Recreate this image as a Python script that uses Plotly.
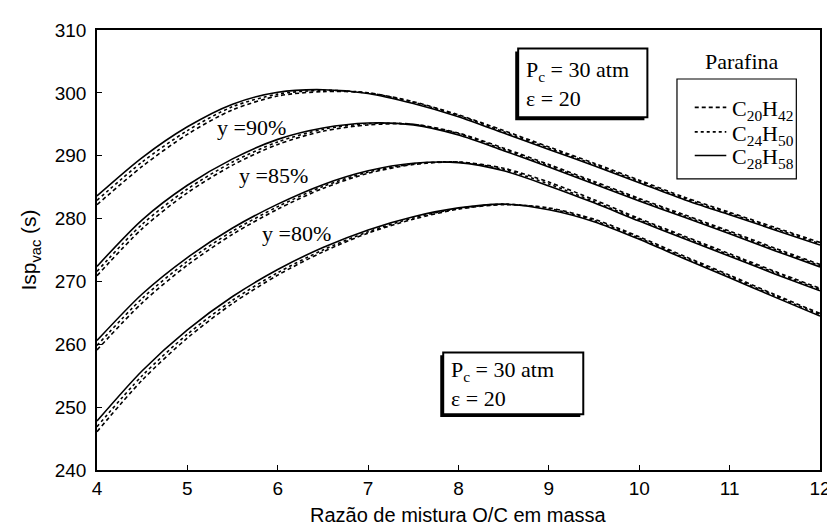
import plotly.graph_objects as go

# ---------------- data ----------------
ratio_oc = [4.0, 4.5, 5.0, 5.5, 6.0, 6.5, 7.0, 7.5, 8.0, 8.5, 9.0, 9.5, 10.0, 10.5, 11.0, 11.5, 12.0]

# top bundle
isp1_c20 = [282.2, 288.3, 293.4, 297.3, 299.5, 300.2, 300.0, 298.6, 296.5, 294.0, 291.4, 288.8, 286.1, 283.4, 281.0, 278.6, 276.2]
isp1_c24 = [282.9, 289.0, 294.0, 297.8, 299.8, 300.4, 300.0, 298.5, 296.4, 293.8, 291.2, 288.6, 285.9, 283.2, 280.8, 278.4, 276.0]
isp1_c28 = [283.6, 289.7, 294.6, 298.2, 300.1, 300.5, 299.9, 298.3, 296.2, 293.6, 291.0, 288.4, 285.7, 283.0, 280.6, 278.2, 275.8]
# second bundle
isp2_c20 = [270.9, 278.4, 284.1, 288.5, 291.8, 293.9, 294.9, 295.0, 293.6, 291.2, 288.6, 285.9, 283.2, 280.6, 278.0, 275.3, 272.7]
isp2_c24 = [271.6, 279.1, 284.7, 289.0, 292.2, 294.2, 295.1, 295.0, 293.5, 291.0, 288.4, 285.7, 283.0, 280.4, 277.8, 275.1, 272.5]
isp2_c28 = [272.4, 279.8, 285.3, 289.5, 292.6, 294.4, 295.2, 294.9, 293.3, 290.8, 288.2, 285.5, 282.8, 280.2, 277.6, 274.9, 272.3]
# third bundle
isp3_c20 = [259.1, 266.6, 272.6, 277.5, 281.5, 284.8, 287.2, 288.6, 289.0, 288.0, 285.8, 283.0, 280.0, 277.2, 274.4, 271.6, 268.9]
isp3_c24 = [259.8, 267.3, 273.2, 278.0, 281.9, 285.1, 287.4, 288.7, 289.0, 287.8, 285.5, 282.7, 279.8, 277.0, 274.2, 271.4, 268.7]
isp3_c28 = [260.6, 268.0, 273.8, 278.5, 282.3, 285.4, 287.6, 288.8, 288.9, 287.6, 285.2, 282.5, 279.6, 276.8, 274.0, 271.2, 268.5]
# bottom bundle
isp4_c20 = [246.1, 254.3, 261.0, 266.5, 271.0, 274.7, 277.7, 279.9, 281.5, 282.2, 281.7, 279.9, 277.1, 274.0, 271.0, 267.9, 264.9]
isp4_c24 = [246.9, 255.0, 261.6, 267.0, 271.4, 275.0, 277.9, 280.1, 281.6, 282.3, 281.6, 279.7, 276.9, 273.8, 270.8, 267.7, 264.7]
isp4_c28 = [247.8, 255.8, 262.3, 267.6, 271.9, 275.4, 278.2, 280.3, 281.7, 282.3, 281.4, 279.5, 276.7, 273.6, 270.6, 267.5, 264.5]

fuel_names = ["C<sub>20</sub>H<sub>42</sub>", "C<sub>24</sub>H<sub>50</sub>", "C<sub>28</sub>H<sub>58</sub>"]
bundles = [
    [isp1_c20, isp1_c24, isp1_c28],
    [isp2_c20, isp2_c24, isp2_c28],
    [isp3_c20, isp3_c24, isp3_c28],
    [isp4_c20, isp4_c24, isp4_c28],
]
level_labels = ["y =90%", "y =85%", "y =80%"]

x_ticks = [4, 5, 6, 7, 8, 9, 10, 11, 12]
y_ticks = [240, 250, 260, 270, 280, 290, 300, 310]

# ---------------- figure ----------------
W, H = 835, 526
L, R, T, B = 89, 822, 13, 462
SERIF = "Liberation Serif, Times New Roman, serif"
SANS = "Liberation Sans, Arial, sans-serif"

def px(xp):
    return (xp - L) / (R - L)

def py(yp):
    return (B - yp) / (B - T)

dash_styles = ["4px,3px", "dot", "solid"]

fig = go.Figure()
for bi, bundle in enumerate(bundles):
    for fi, vals in enumerate(bundle):
        fig.add_trace(go.Scatter(
            x=ratio_oc, y=vals, mode="lines",
            line=dict(color="black", width=1.6, dash=dash_styles[fi], shape="spline", smoothing=0.8),
            name=fuel_names[fi], showlegend=False,
            hoverinfo="skip",
        ))

shapes = []
def boxed(x0, y0, x1, y1):
    # shadow (offset left/down) + white box with border
    shapes.append(dict(type="rect", xref="paper", yref="paper",
                       x0=px(x0 - 3), x1=px(x1 - 3), y0=py(y1 + 3), y1=py(y0 + 3),
                       fillcolor="black", line=dict(width=0), layer="above"))
    shapes.append(dict(type="rect", xref="paper", yref="paper",
                       x0=px(x0), x1=px(x1), y0=py(y1), y1=py(y0),
                       fillcolor="white", line=dict(color="black", width=2), layer="above"))

boxed(516, 32, 647, 102)
boxed(440, 342, 582, 405)

# legend frame and samples (drawn as decorations)
shapes.append(dict(type="rect", xref="paper", yref="paper",
                   x0=px(677), x1=px(798), y0=py(165), y1=py(63),
                   fillcolor="white", line=dict(color="black", width=1.2), layer="above"))
legend_rows = [92, 117, 141]
for fi, yy in enumerate(legend_rows):
    shapes.append(dict(type="line", xref="paper", yref="paper",
                       x0=px(695), x1=px(727), y0=py(yy), y1=py(yy),
                       line=dict(color="black", width=1.6, dash=dash_styles[fi]), layer="above"))

box_text = "P<sub>c</sub> = 30 atm<br>ε = 20"
annotations = [
    dict(text=box_text, x=px(522), y=py(68), xref="paper", yref="paper", xanchor="left", yanchor="middle",
         align="left", showarrow=False, font=dict(family=SERIF, size=22, color="black")),
    dict(text=box_text, x=px(446), y=py(374), xref="paper", yref="paper", xanchor="left", yanchor="middle",
         align="left", showarrow=False, font=dict(family=SERIF, size=22, color="black")),
    dict(text="Parafina", x=px(743), y=py(45), xref="paper", yref="paper", xanchor="center", yanchor="middle",
         showarrow=False, font=dict(family=SERIF, size=22, color="black")),
    dict(text="Razão de mistura O/C em massa", x=px(456), y=py(508), xref="paper", yref="paper",
         xanchor="center", yanchor="middle", showarrow=False,
         font=dict(family=SANS, size=20, color="black")),
]
for fi, yy in enumerate(legend_rows):
    annotations.append(dict(text=fuel_names[fi], x=px(731), y=py(yy + 3), xref="paper", yref="paper",
                            xanchor="left", yanchor="middle", showarrow=False,
                            font=dict(family=SERIF, size=22, color="black")))

label_pos = [(246, 112), (268, 161), (291, 221)]
for lab, (lx, ly) in zip(level_labels, label_pos):
    annotations.append(dict(text=lab, x=px(lx), y=py(ly), xref="paper", yref="paper",
                            xanchor="center", yanchor="middle", showarrow=False,
                            font=dict(family=SERIF, size=22, color="black")))

axis_common = dict(showline=True, linecolor="black", linewidth=1.5, mirror=True,
                   ticks="inside", ticklen=5, tickwidth=1, tickcolor="black",
                   showgrid=False, zeroline=False, ticklabeloverflow="allow",
                   tickfont=dict(family=SANS, size=19, color="black"))

fig.update_layout(
    width=W, height=H,
    margin=dict(l=L, r=W - R, t=T, b=H - B),
    paper_bgcolor="white", plot_bgcolor="white",
    xaxis=dict(range=[4, 12], tickvals=x_ticks, ticktext=[str(v) for v in x_ticks],
               **axis_common),
    yaxis=dict(range=[240, 310], tickvals=y_ticks, ticktext=[str(v) for v in y_ticks],
               ticklabelstandoff=5,
               title=dict(text="Isp<sub>vac</sub> (s)", font=dict(family=SANS, size=21, color="black"), standoff=12),
               **axis_common),
    shapes=shapes,
    annotations=annotations,
    showlegend=False,
)

fig.write_html("out.html")
